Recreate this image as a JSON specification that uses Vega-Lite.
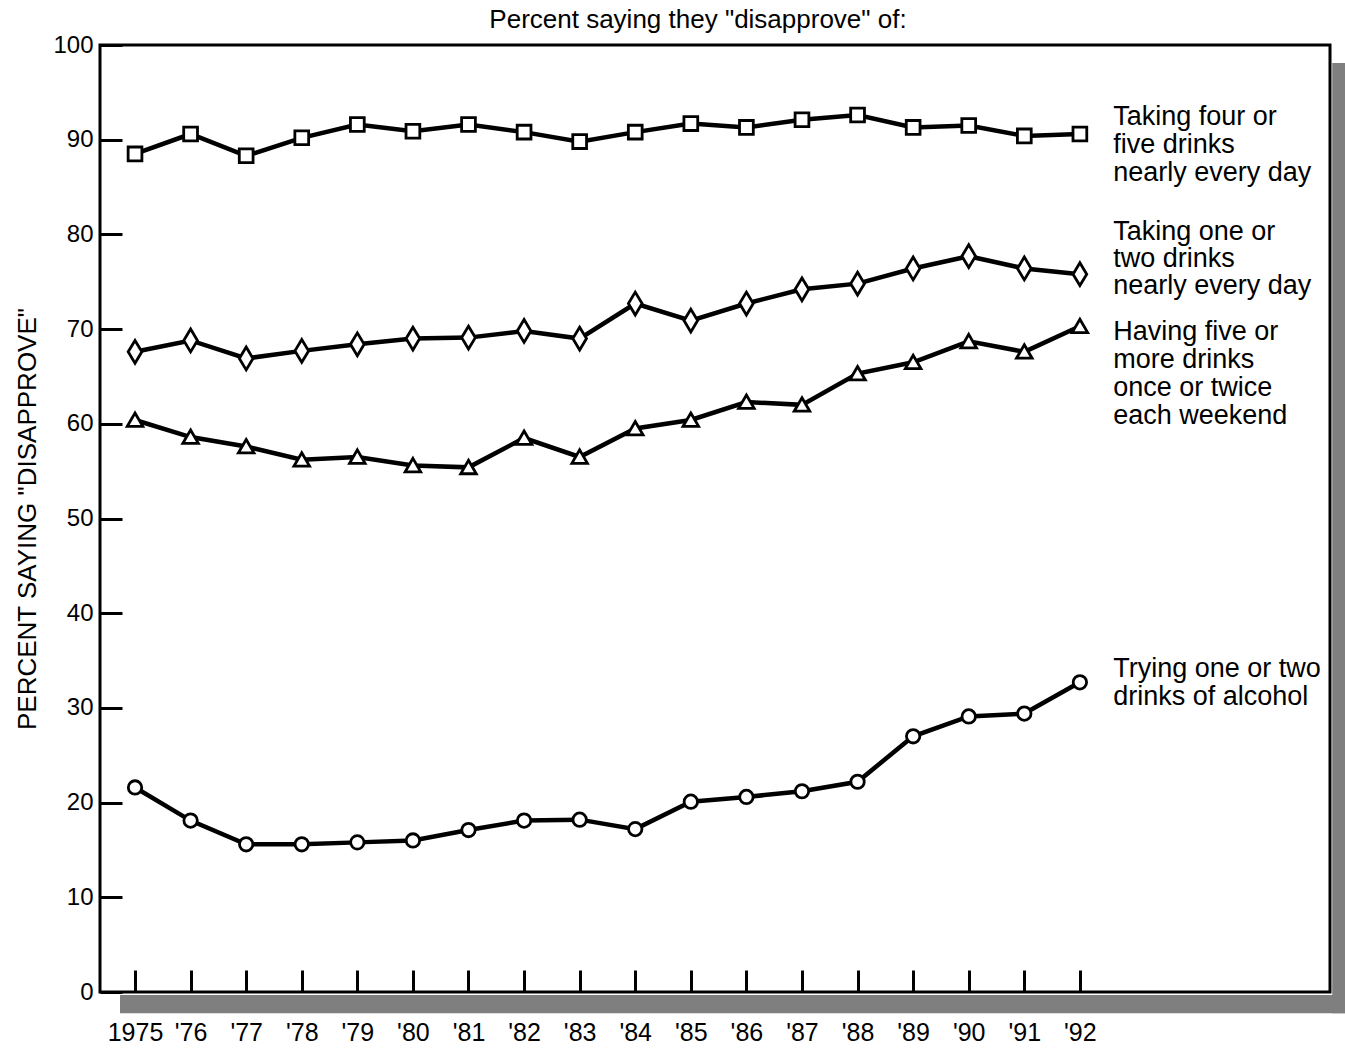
{
  "$schema": "https://vega.github.io/schema/vega-lite/v6.json",
  "width": 1230,
  "height": 947,
  "autosize": {"type": "none"},
  "padding": {"left": 100, "top": 45, "right": 15, "bottom": 59},
  "background": "white",
  "config": {
    "font": "Liberation Sans",
    "view": {"stroke": "black", "strokeWidth": 3},
    "axis": {"domain": false, "grid": false, "tickColor": "black", "tickWidth": 3, "labelColor": "black", "titleColor": "black", "titleFontWeight": "normal"}
  },
  "title": {"text": "Percent saying they \"disapprove\" of:", "fontSize": 26, "fontWeight": "normal", "anchor": "middle", "dx": -17, "offset": 0, "color": "black"},
  "data": {
    "values": [
      {"year": 1975, "series": "Four or five drinks daily", "value": 88.5},
      {"year": 1976, "series": "Four or five drinks daily", "value": 90.6},
      {"year": 1977, "series": "Four or five drinks daily", "value": 88.3},
      {"year": 1978, "series": "Four or five drinks daily", "value": 90.2},
      {"year": 1979, "series": "Four or five drinks daily", "value": 91.6},
      {"year": 1980, "series": "Four or five drinks daily", "value": 90.9},
      {"year": 1981, "series": "Four or five drinks daily", "value": 91.6},
      {"year": 1982, "series": "Four or five drinks daily", "value": 90.8},
      {"year": 1983, "series": "Four or five drinks daily", "value": 89.8},
      {"year": 1984, "series": "Four or five drinks daily", "value": 90.8},
      {"year": 1985, "series": "Four or five drinks daily", "value": 91.7},
      {"year": 1986, "series": "Four or five drinks daily", "value": 91.3},
      {"year": 1987, "series": "Four or five drinks daily", "value": 92.1},
      {"year": 1988, "series": "Four or five drinks daily", "value": 92.6},
      {"year": 1989, "series": "Four or five drinks daily", "value": 91.3},
      {"year": 1990, "series": "Four or five drinks daily", "value": 91.5},
      {"year": 1991, "series": "Four or five drinks daily", "value": 90.4},
      {"year": 1992, "series": "Four or five drinks daily", "value": 90.6},
      {"year": 1975, "series": "One or two drinks daily", "value": 67.6},
      {"year": 1976, "series": "One or two drinks daily", "value": 68.8},
      {"year": 1977, "series": "One or two drinks daily", "value": 66.9},
      {"year": 1978, "series": "One or two drinks daily", "value": 67.7},
      {"year": 1979, "series": "One or two drinks daily", "value": 68.4},
      {"year": 1980, "series": "One or two drinks daily", "value": 69.0},
      {"year": 1981, "series": "One or two drinks daily", "value": 69.1},
      {"year": 1982, "series": "One or two drinks daily", "value": 69.8},
      {"year": 1983, "series": "One or two drinks daily", "value": 69.0},
      {"year": 1984, "series": "One or two drinks daily", "value": 72.7},
      {"year": 1985, "series": "One or two drinks daily", "value": 70.9},
      {"year": 1986, "series": "One or two drinks daily", "value": 72.7},
      {"year": 1987, "series": "One or two drinks daily", "value": 74.2},
      {"year": 1988, "series": "One or two drinks daily", "value": 74.8},
      {"year": 1989, "series": "One or two drinks daily", "value": 76.4},
      {"year": 1990, "series": "One or two drinks daily", "value": 77.7},
      {"year": 1991, "series": "One or two drinks daily", "value": 76.4},
      {"year": 1992, "series": "One or two drinks daily", "value": 75.8},
      {"year": 1975, "series": "Five or more drinks weekend", "value": 60.4},
      {"year": 1976, "series": "Five or more drinks weekend", "value": 58.6},
      {"year": 1977, "series": "Five or more drinks weekend", "value": 57.6},
      {"year": 1978, "series": "Five or more drinks weekend", "value": 56.2},
      {"year": 1979, "series": "Five or more drinks weekend", "value": 56.5},
      {"year": 1980, "series": "Five or more drinks weekend", "value": 55.6},
      {"year": 1981, "series": "Five or more drinks weekend", "value": 55.4},
      {"year": 1982, "series": "Five or more drinks weekend", "value": 58.5},
      {"year": 1983, "series": "Five or more drinks weekend", "value": 56.5},
      {"year": 1984, "series": "Five or more drinks weekend", "value": 59.5},
      {"year": 1985, "series": "Five or more drinks weekend", "value": 60.4},
      {"year": 1986, "series": "Five or more drinks weekend", "value": 62.3},
      {"year": 1987, "series": "Five or more drinks weekend", "value": 62.0},
      {"year": 1988, "series": "Five or more drinks weekend", "value": 65.3},
      {"year": 1989, "series": "Five or more drinks weekend", "value": 66.5},
      {"year": 1990, "series": "Five or more drinks weekend", "value": 68.7},
      {"year": 1991, "series": "Five or more drinks weekend", "value": 67.6},
      {"year": 1992, "series": "Five or more drinks weekend", "value": 70.3},
      {"year": 1975, "series": "Trying one or two drinks", "value": 21.6},
      {"year": 1976, "series": "Trying one or two drinks", "value": 18.1},
      {"year": 1977, "series": "Trying one or two drinks", "value": 15.6},
      {"year": 1978, "series": "Trying one or two drinks", "value": 15.6},
      {"year": 1979, "series": "Trying one or two drinks", "value": 15.8},
      {"year": 1980, "series": "Trying one or two drinks", "value": 16.0},
      {"year": 1981, "series": "Trying one or two drinks", "value": 17.1},
      {"year": 1982, "series": "Trying one or two drinks", "value": 18.1},
      {"year": 1983, "series": "Trying one or two drinks", "value": 18.2},
      {"year": 1984, "series": "Trying one or two drinks", "value": 17.2},
      {"year": 1985, "series": "Trying one or two drinks", "value": 20.1},
      {"year": 1986, "series": "Trying one or two drinks", "value": 20.6},
      {"year": 1987, "series": "Trying one or two drinks", "value": 21.2},
      {"year": 1988, "series": "Trying one or two drinks", "value": 22.2},
      {"year": 1989, "series": "Trying one or two drinks", "value": 27.0},
      {"year": 1990, "series": "Trying one or two drinks", "value": 29.1},
      {"year": 1991, "series": "Trying one or two drinks", "value": 29.4},
      {"year": 1992, "series": "Trying one or two drinks", "value": 32.7}
    ]
  },
  "layer": [
    {
      "data": {"values": [{}]},
      "mark": {"type": "rect", "color": "#7f7f7f", "clip": false},
      "encoding": {
        "x": {"datum": 1974.73, "type": "quantitative"},
        "x2": {"datum": 1996.8},
        "y": {"datum": -0.32, "type": "quantitative"},
        "y2": {"datum": -2.25}
      }
    },
    {
      "data": {"values": [{}]},
      "mark": {"type": "rect", "color": "#7f7f7f", "clip": false},
      "encoding": {
        "x": {"datum": 1996.54, "type": "quantitative"},
        "x2": {"datum": 1996.8},
        "y": {"datum": 98.1, "type": "quantitative"},
        "y2": {"datum": -2.25}
      }
    },
    {
      "mark": {"type": "line", "color": "black", "strokeWidth": 4.5},
      "encoding": {
        "x": {
          "field": "year", "type": "quantitative",
          "scale": {"domain": [1974.37, 1996.5], "nice": false, "zero": false},
          "axis": {
            "title": null, "values": [1975,1976,1977,1978,1979,1980,1981,1982,1983,1984,1985,1986,1987,1988,1989,1990,1991,1992],
            "labelExpr": "datum.value == 1975 ? '1975' : \"'\" + substring(toString(datum.value), 2, 4)",
            "tickSize": -22, "labelPadding": 50, "labelFontSize": 25, "labelOverlap": false, "labelFlush": false
          }
        },
        "y": {
          "field": "value", "type": "quantitative",
          "scale": {"domain": [0, 100], "nice": false},
          "axis": {
            "title": "PERCENT SAYING \"DISAPPROVE\"", "titleFontSize": 26, "titlePadding": 12,
            "values": [0,10,20,30,40,50,60,70,80,90,100],
            "tickSize": -22, "labelPadding": 29, "labelFontSize": 24
          }
        },
        "detail": {"field": "series"}
      }
    },
    {
      "transform": [{"filter": "datum.series == 'Four or five drinks daily'"}],
      "mark": {"type": "point", "shape": "square", "size": 190, "filled": true, "fill": "white", "stroke": "black", "strokeWidth": 2.8, "opacity": 1},
      "encoding": {"x": {"field": "year", "type": "quantitative"}, "y": {"field": "value", "type": "quantitative"}}
    },
    {
      "transform": [{"filter": "datum.series == 'One or two drinks daily'"}],
      "mark": {"type": "point", "shape": "M0,-1L0.6,0L0,1L-0.6,0Z", "size": 520, "filled": true, "fill": "white", "stroke": "black", "strokeWidth": 2.8, "opacity": 1},
      "encoding": {"x": {"field": "year", "type": "quantitative"}, "y": {"field": "value", "type": "quantitative"}}
    },
    {
      "transform": [{"filter": "datum.series == 'Five or more drinks weekend'"}],
      "mark": {"type": "point", "shape": "M0,-1L1.1,0.9L-1.1,0.9Z", "size": 200, "filled": true, "fill": "white", "stroke": "black", "strokeWidth": 2.8, "opacity": 1},
      "encoding": {"x": {"field": "year", "type": "quantitative"}, "y": {"field": "value", "type": "quantitative"}}
    },
    {
      "transform": [{"filter": "datum.series == 'Trying one or two drinks'"}],
      "mark": {"type": "point", "shape": "circle", "size": 180, "filled": true, "fill": "white", "stroke": "black", "strokeWidth": 2.8, "opacity": 1},
      "encoding": {"x": {"field": "year", "type": "quantitative"}, "y": {"field": "value", "type": "quantitative"}}
    },
    {
      "data": {"values": [{}]},
      "mark": {"type": "text", "text": ["Taking four or", "five drinks", "nearly every day"], "align": "left", "baseline": "alphabetic", "fontSize": 27, "lineHeight": 28, "color": "black"},
      "encoding": {"x": {"datum": 1992.6, "type": "quantitative"}, "y": {"datum": 91.5, "type": "quantitative"}}
    },
    {
      "data": {"values": [{}]},
      "mark": {"type": "text", "text": ["Taking one or", "two drinks", "nearly every day"], "align": "left", "baseline": "alphabetic", "fontSize": 27, "lineHeight": 27, "color": "black"},
      "encoding": {"x": {"datum": 1992.6, "type": "quantitative"}, "y": {"datum": 79.4, "type": "quantitative"}}
    },
    {
      "data": {"values": [{}]},
      "mark": {"type": "text", "text": ["Having five or", "more drinks", "once or twice", "each weekend"], "align": "left", "baseline": "alphabetic", "fontSize": 27, "lineHeight": 28, "color": "black"},
      "encoding": {"x": {"datum": 1992.6, "type": "quantitative"}, "y": {"datum": 68.8, "type": "quantitative"}}
    },
    {
      "data": {"values": [{}]},
      "mark": {"type": "text", "text": ["Trying one or two", "drinks of alcohol"], "align": "left", "baseline": "alphabetic", "fontSize": 27, "lineHeight": 28, "color": "black"},
      "encoding": {"x": {"datum": 1992.6, "type": "quantitative"}, "y": {"datum": 33.3, "type": "quantitative"}}
    }
  ]
}
